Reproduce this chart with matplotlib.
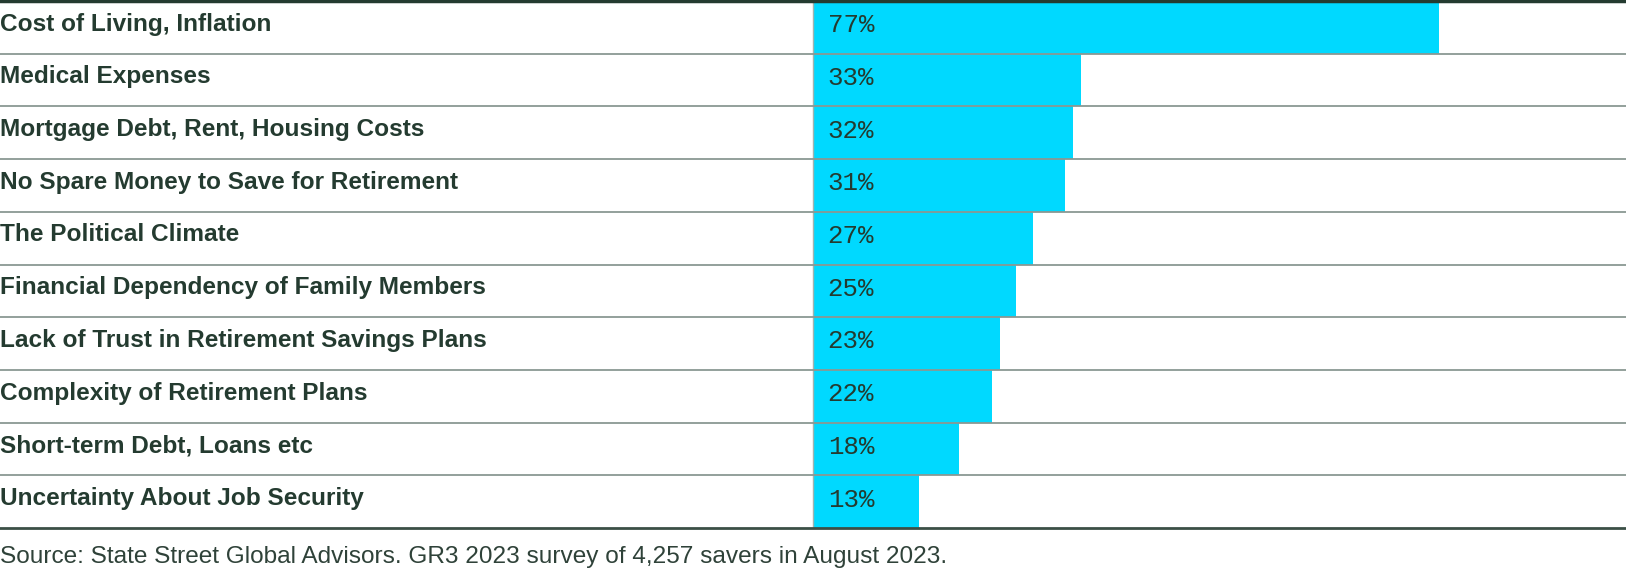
import matplotlib.pyplot as plt

# survey data: share of savers naming each concern
categories = [
    "Cost of Living, Inflation",
    "Medical Expenses",
    "Mortgage Debt, Rent, Housing Costs",
    "No Spare Money to Save for Retirement",
    "The Political Climate",
    "Financial Dependency of Family Members",
    "Lack of Trust in Retirement Savings Plans",
    "Complexity of Retirement Plans",
    "Short-term Debt, Loans etc",
    "Uncertainty About Job Security",
]
values = [77, 33, 32, 31, 27, 25, 23, 22, 18, 13]
source = "Source: State Street Global Advisors. GR3 2023 survey of 4,257 savers in August 2023."

TEXT = "#243b30"
BAR = "#00d9ff"

fig = plt.figure(figsize=(16.26, 5.78), dpi=100)
ax = fig.add_axes([0, 1 - 528 / 578, 1, 527 / 578])

n = len(categories)
rows = list(range(n))
ax.barh([r + 0.5 for r in rows], values, height=1.0, left=0, color=BAR,
        edgecolor="none", zorder=1)
ax.axvline(0, color="#9fb4b0", lw=1, zorder=2)

for r, (cat, v) in enumerate(zip(categories, values)):
    ax.text(-100, r + 0.44, cat, ha="left", va="center", fontsize=17.6,
            fontweight="bold", family="Liberation Sans", color=TEXT)
    ax.text(1.8, r + 0.46, f"{v}%", ha="left", va="center", fontsize=18.5,
            family="Liberation Mono", color=TEXT)

# row separators
for r in range(1, n):
    ax.axhline(r, color="#8a9893", lw=1.3, zorder=3)
ax.axhline(0, color=TEXT, lw=2.5, zorder=3, clip_on=False)
ax.axhline(n, color="#3b4f46", lw=2, zorder=3, clip_on=False)

ax.set_xlim(-100, 100)
ax.set_ylim(n, 0)
ax.axis("off")

fig.text(0, 1 - 557 / 578, source, ha="left", va="center", fontsize=17.6,
         family="Liberation Sans", color="#2f4239")

plt.savefig("out.png", dpi=100)
